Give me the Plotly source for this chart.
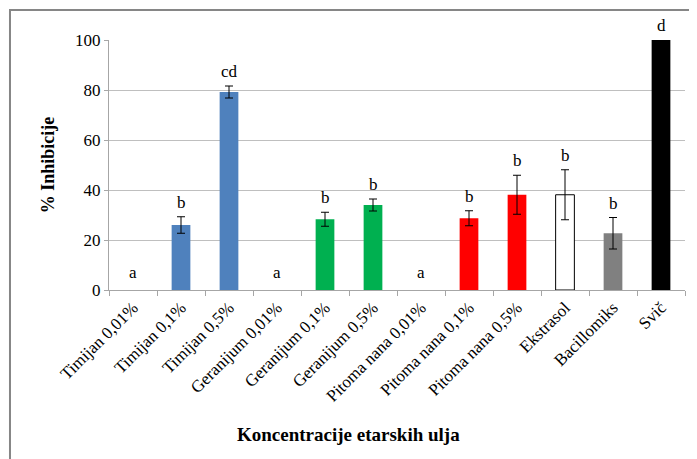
import plotly.graph_objects as go

categories = ["Timijan 0,01%", "Timijan 0,1%", "Timijan 0,5%", "Geranijum 0,01%",
              "Geranijum 0,1%", "Geranijum 0,5%", "Pitoma nana 0,01%", "Pitoma nana 0,1%",
              "Pitoma nana 0,5%", "Ekstrasol", "Bacillomiks", "Svič"]
values = [0, 26.0, 79.2, 0, 28.3, 34.0, 0, 28.7, 38.1, 38.1, 22.7, 100]
errors = [0, 3.3, 2.4, 0, 2.8, 2.4, 0, 3.0, 7.8, 10.0, 6.3, 0]
letters = ["a", "b", "cd", "a", "b", "b", "a", "b", "b", "b", "b", "d"]
colors = ["#4F81BD", "#4F81BD", "#4F81BD", "#00B050", "#00B050", "#00B050",
          "#FF0000", "#FF0000", "#FF0000", "#FFFFFF", "#808080", "#000000"]
outline = [0, 0, 0, 0, 0, 0, 0, 0, 0, 1, 0, 0]

FONT = "Liberation Serif"

plot_y = [v if v > 0 else None for v in values]
plot_err = [e if e > 0 else None for e in errors]

fig = go.Figure()
fig.add_trace(go.Bar(
    x=categories, y=plot_y, width=0.39,
    marker=dict(color=colors, line=dict(color="#000000", width=outline)),
    error_y=dict(type="data", array=plot_err,
                 visible=True, color="#000000", thickness=1, width=4),
    showlegend=False,
))

for c, v, e, t in zip(categories, values, errors, letters):
    if v == 0:
        fig.add_annotation(x=c, y=7, text=t, showarrow=False,
                           font=dict(family=FONT, size=17, color="#000"))
    else:
        fig.add_annotation(x=c, y=v + e, text=t, showarrow=False, yanchor="bottom",
                           yshift=3, font=dict(family=FONT, size=17, color="#000"))

fig.add_annotation(x=0.415, y=-0.628, xref="paper", yref="paper",
                   text="<b>Koncentracije etarskih ulja</b>", showarrow=False,
                   font=dict(family=FONT, size=19, color="#000"))

fig.add_shape(type="rect", xref="paper", yref="paper",
              x0=-0.1719, x1=1.05, y0=-0.8, y1=1.12,
              line=dict(color="#868686", width=2), fillcolor="rgba(0,0,0,0)")

fig.update_layout(
    width=697, height=459,
    margin=dict(l=101, r=20, t=32, b=177),
    paper_bgcolor="white", plot_bgcolor="white",
    font=dict(family=FONT, size=17, color="#000"),
    xaxis=dict(
        type="category", tickangle=-45, showgrid=False,
        showline=True, linecolor="#A6A6A6", linewidth=1,
        ticks="outside", tickson="boundaries", ticklen=5, tickcolor="#A6A6A6",
        tickfont=dict(family=FONT, size=17, color="#000"),
        automargin=False,
    ),
    yaxis=dict(
        range=[0, 100], tickvals=[0, 20, 40, 60, 80, 100],
        showgrid=True, gridcolor="#BFBFBF", gridwidth=1,
        showline=True, linecolor="#A6A6A6", linewidth=1,
        ticks="outside", ticklen=4, tickcolor="#A6A6A6",
        tickfont=dict(family=FONT, size=17, color="#000"),
        title=dict(text="<b>% Inhibicije</b>", font=dict(family=FONT, size=18, color="#000"),
                   standoff=15),
        zeroline=False, automargin=False,
    ),
)

fig.write_html("out.html")
